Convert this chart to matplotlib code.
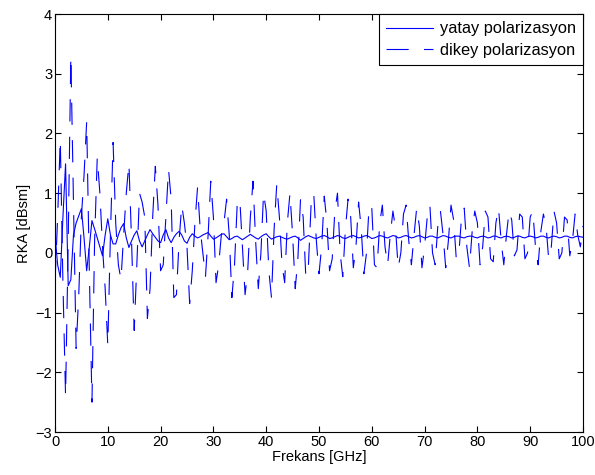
import numpy as np
import matplotlib
matplotlib.use("Agg")
import matplotlib.pyplot as plt

plt.rcParams['font.family'] = ['Liberation Sans', 'DejaVu Sans']
plt.rcParams['font.size'] = 10
plt.rcParams['lines.scale_dashes'] = False

# Radar cross section (dBsm) sampled every 0.5 GHz from 0 to 100 GHz
yatay = [
    0.3, -0.2, -0.41, 0.6, 1.49, -0.55, -0.45, 0.3, 0.5, 0.62,
    0.74, 0.25, -0.3, 0.1, 0.54, 0.4, 0.25, 0.1, -0.05, 0.3,
    0.57, 0.3, 0.15, 0.15, 0.3, 0.42, 0.49, 0.25, 0.09, 0.2,
    0.3, 0.37, 0.2, 0.1, 0.2, 0.3, 0.39, 0.32, 0.26, 0.2,
    0.17, 0.3, 0.39, 0.25, 0.17, 0.26, 0.32, 0.36, 0.3, 0.2,
    0.16, 0.26, 0.32, 0.28, 0.25, 0.27, 0.3, 0.32, 0.34, 0.28,
    0.23, 0.25, 0.28, 0.31, 0.32, 0.27, 0.22, 0.24, 0.27, 0.28,
    0.25, 0.22, 0.25, 0.28, 0.31, 0.28, 0.25, 0.23, 0.27, 0.30,
    0.32, 0.27, 0.23, 0.25, 0.27, 0.28, 0.26, 0.24, 0.23, 0.25,
    0.27, 0.28, 0.25, 0.21, 0.24, 0.27, 0.29, 0.27, 0.25, 0.24,
    0.26, 0.28, 0.29, 0.27, 0.24, 0.25, 0.27, 0.29, 0.28, 0.25,
    0.24, 0.26, 0.28, 0.29, 0.27, 0.25, 0.26, 0.28, 0.29, 0.27,
    0.24, 0.25, 0.27, 0.29, 0.28, 0.26, 0.25, 0.27, 0.29, 0.28,
    0.25, 0.26, 0.28, 0.29, 0.27, 0.25, 0.26, 0.28, 0.29, 0.27,
    0.25, 0.26, 0.28, 0.28, 0.26, 0.25, 0.27, 0.29, 0.28, 0.26,
    0.25, 0.27, 0.28, 0.28, 0.26, 0.25, 0.27, 0.28, 0.28, 0.26,
    0.25, 0.27, 0.28, 0.27, 0.25, 0.26, 0.28, 0.28, 0.26, 0.25,
    0.27, 0.28, 0.27, 0.25, 0.26, 0.28, 0.28, 0.26, 0.25, 0.27,
    0.28, 0.27, 0.25, 0.26, 0.28, 0.28, 0.26, 0.25, 0.27, 0.28,
    0.27, 0.25, 0.26, 0.28, 0.28, 0.26, 0.25, 0.27, 0.28, 0.27,
    0.26,
]

dikey = [
    -0.5, 0.6, 1.9, -0.5, -2.4, 0.2, 3.3, 0.8, -1.6, -0.7,
    0.6, 1.3, 2.2, -0.3, -2.5, 0.2, 1.6, 1.0, 0.1, -0.6,
    -1.55, 0.3, 1.85, 0.5, -0.2, -0.45, 0.3, 1.0, 1.5, 0.2,
    -1.3, -0.2, 1.0, 0.85, 0.6, -1.1, -0.6, 0.6, 1.45, 0.8,
    -0.3, -0.2, 0.6, 1.4, 0.9, -0.75, -0.7, 0.2, 0.8, 0.5,
    0.1, -0.85, -0.3, 0.5, 1.1, 0.4, 0.0, -0.4, 0.3, 1.2,
    0.6, -0.5, -0.2, 0.3, 0.5, 0.9, 0.3, -0.75, -0.2, 0.8,
    0.9, 0.1, -0.7, -0.3, 0.6, 1.2, 0.2, -0.6, 0.0, 1.0,
    0.7, -0.3, -0.75, 0.4, 1.15, 0.6, -0.2, -0.5, 0.5, 1.0,
    0.3, -0.6, -0.1, 0.9, 0.6, -0.4, -0.2, 0.8, 1.0, 0.2,
    -0.35, 0.1, 0.95, 0.5, -0.3, -0.1, 0.7, 1.0, 0.0, -0.4,
    0.4, 0.9, 0.6, -0.25, 0.1, 0.85, 0.4, -0.35, 0.0, 0.8,
    0.75, -0.2, -0.25, 0.5, 0.8, 0.1, -0.2, 0.3, 0.7, 0.4,
    -0.25, 0.0, 0.65, 0.8, 0.2, -0.2, 0.3, 0.75, 0.45, -0.25,
    0.1, 0.6, 0.8, 0.0, -0.2, 0.45, 0.7, 0.3, -0.25, 0.2,
    0.8, 0.55, -0.1, 0.0, 0.6, 0.75, 0.1, -0.25, 0.35, 0.7,
    0.5, -0.2, 0.1, 0.7, 0.6, -0.1, -0.15, 0.5, 0.75, 0.2,
    -0.2, 0.3, 0.7, 0.55, -0.05, 0.05, 0.65, 0.6, -0.1, 0.0,
    0.6, 0.7, 0.1, -0.2, 0.35, 0.65, 0.45, -0.1, 0.1, 0.7,
    0.5, -0.1, 0.0, 0.6, 0.55, -0.05, 0.2, 0.65, 0.3, 0.1,
    0.45,
]

freq_yatay = np.linspace(0, 100, len(yatay))
freq_dikey = np.linspace(0, 100, len(dikey))

x_ticks = list(range(0, 101, 10))
y_ticks = list(range(-3, 5))

fig = plt.figure(figsize=(5.95, 4.75), dpi=100)
ax = fig.add_axes([55 / 595, 1 - 432 / 475, 528 / 595, 418 / 475])

ax.plot(freq_yatay, yatay, color='#0000ff', lw=0.8, label='yatay polarizasyon')
ax.plot(freq_dikey, dikey, color='#0000ff', lw=0.8, dashes=(16, 11),
        label='dikey polarizasyon')

ax.set_xlim(0, 100)
ax.set_ylim(-3, 4)
ax.set_xticks(x_ticks)
ax.set_yticks(y_ticks)
ax.tick_params(direction='in', length=4, width=0.8, top=True, right=True,
               labelsize=10.5, pad=2)
for sp in ax.spines.values():
    sp.set_linewidth(0.8)

ax.set_xlabel('Frekans [GHz]', fontsize=10.5, labelpad=1)
ax.set_ylabel('RKA [dBsm]', fontsize=10.5, labelpad=3)

leg = ax.legend(loc='upper right', borderaxespad=0, fancybox=False,
                framealpha=1, edgecolor='black', handlelength=2.85,
                handletextpad=0.42, borderpad=0.45, labelspacing=0.4,
                fontsize=11.8)
leg.get_frame().set_linewidth(0.8)

fig.savefig('out.png', dpi=100)
